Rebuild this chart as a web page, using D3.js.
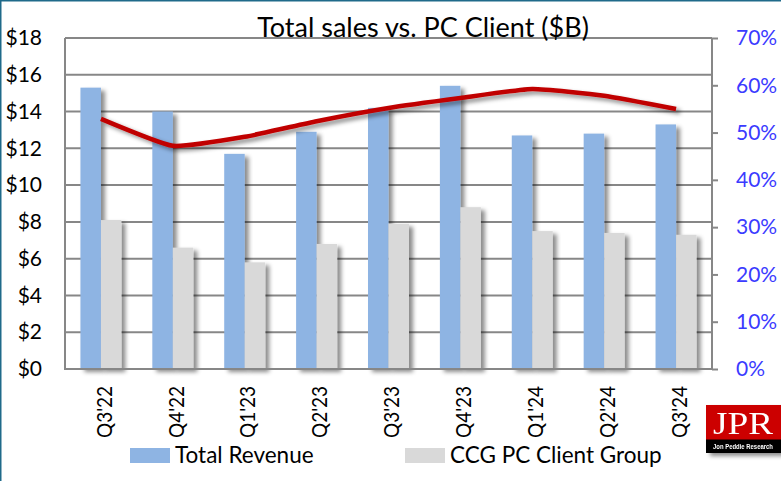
<!DOCTYPE html>
<html><head><meta charset="utf-8">
<script src="https://cdn.jsdelivr.net/npm/d3@7"></script>
<style>
html,body{margin:0;padding:0;background:#fff;}
svg{display:block;font-family:Lato,"Open Sans",sans-serif;}
</style></head>
<body>
<svg id="chart" width="781" height="481"></svg>
<script>
const categories = ["Q3'22","Q4'22","Q1'23","Q2'23","Q3'23","Q4'23","Q1'24","Q2'24","Q3'24"];
const totalRevenue = [15.3, 14.0, 11.7, 12.9, 14.2, 15.4, 12.7, 12.8, 13.3];
const pcClient = [8.1, 6.6, 5.8, 6.8, 7.9, 8.8, 7.5, 7.4, 7.3];
const pcShare = [52.9, 47.2, 49.1, 52.4, 55.2, 57.3, 59.2, 57.8, 55.0];
const leftTicks = [0,2,4,6,8,10,12,14,16,18];
const rightTicks = [0,10,20,30,40,50,60,70];
const seriesNames = ["Total Revenue","CCG PC Client Group"];

const svg = d3.select("#chart");
const W = 781, H = 481;
const m = {left:65, right:69, top:38, bottom:112};
const x0 = m.left, x1 = W - m.right, y0 = H - m.bottom, y1 = m.top;

const defs = svg.append("defs");
const f = defs.append("filter").attr("id","shadow").attr("x","-20%").attr("y","-20%").attr("width","160%").attr("height","160%");
f.append("feDropShadow").attr("dx",4).attr("dy",3).attr("stdDeviation",2.2).attr("flood-color","#000").attr("flood-opacity",0.45);

// border
svg.append("rect").attr("x",0.75).attr("y",0.75).attr("width",W+10).attr("height",H+10)
  .attr("fill","none").attr("stroke","#1F6A8A").attr("stroke-width",1.5);

const x = d3.scaleBand().domain(categories).range([x0,x1]).paddingInner(0).paddingOuter(0);
const y = d3.scaleLinear().domain([0,18]).range([y0,y1]);
const yR = d3.scaleLinear().domain([0,70]).range([y0,y1]);
const barW = 20.5;

// gridlines
svg.append("g").selectAll("line").data(leftTicks.filter(d=>d>0)).join("line")
  .attr("x1",x0).attr("x2",x1).attr("y1",d=>y(d)).attr("y2",d=>y(d))
  .attr("stroke","#878787").attr("stroke-width",2);

// bars
const g = svg.append("g");
g.selectAll(".b1").data(categories).join("rect")
  .attr("x",d=>x(d)+x.bandwidth()/2-barW).attr("width",barW)
  .attr("y",(d,i)=>y(totalRevenue[i])).attr("height",(d,i)=>y0-y(totalRevenue[i]))
  .attr("fill","#8EB4E3").attr("filter","url(#shadow)");
g.selectAll(".b2").data(categories).join("rect")
  .attr("x",d=>x(d)+x.bandwidth()/2).attr("width",barW)
  .attr("y",(d,i)=>y(pcClient[i])).attr("height",(d,i)=>y0-y(pcClient[i]))
  .attr("fill","#D9D9D9").attr("filter","url(#shadow)");

// axes lines
svg.append("line").attr("x1",x0).attr("x2",x0).attr("y1",y1).attr("y2",y0+1).attr("stroke","#878787").attr("stroke-width",2);
svg.append("line").attr("x1",x1).attr("x2",x1).attr("y1",y1).attr("y2",y0+1).attr("stroke","#878787").attr("stroke-width",2);
svg.append("line").attr("x1",x0-1).attr("x2",x1+1).attr("y1",y0).attr("y2",y0).attr("stroke","#878787").attr("stroke-width",2);

// line
const line = d3.line().x((d,i)=>x(categories[i])+x.bandwidth()/2).y(d=>yR(d)).curve(d3.curveCardinal.tension(0.55));
svg.append("path").datum(pcShare).attr("d",line).attr("fill","none")
  .attr("stroke","#C00000").attr("stroke-width",4.5).attr("stroke-linejoin","round").attr("filter","url(#shadow)");

// left axis
const la = svg.append("g").attr("transform",`translate(${x0},0)`)
  .call(d3.axisLeft(y).tickValues(leftTicks).tickSize(0).tickPadding(23).tickFormat(d=>"$"+d));
la.select(".domain").remove();
la.selectAll("text").attr("font-size",21).attr("fill","#000").attr("font-family","Lato");

// right axis
const ra = svg.append("g").attr("transform",`translate(${x1},0)`)
  .call(d3.axisRight(yR).tickValues(rightTicks).tickSize(6).tickPadding(18).tickFormat(d=>d+"%"));
ra.select(".domain").remove();
ra.selectAll("line").attr("stroke","#878787").attr("stroke-width",2);
ra.selectAll("text").attr("font-size",21).attr("fill","#3B3BFF").attr("font-family","Lato");

// x labels
svg.append("g").selectAll("text").data(categories).join("text")
  .attr("transform",d=>`translate(${x(d)+x.bandwidth()/2+3},${y0+17}) rotate(-90)`)
  .attr("text-anchor","end").attr("dy","0.35em")
  .attr("font-size",22).attr("textLength",52).attr("lengthAdjust","spacingAndGlyphs")
  .attr("fill","#000").text(d=>d);

// title
svg.append("text").attr("x",423).attr("y",37).attr("text-anchor","middle")
  .attr("font-size",27).attr("fill","#000").text("Total sales vs. PC Client ($B)");

// legend
const leg = svg.append("g");
const legItems = [{name:seriesNames[0],color:"#8EB4E3",x:130},{name:seriesNames[1],color:"#D9D9D9",x:405}];
legItems.forEach(it=>{
  leg.append("rect").attr("x",it.x).attr("y",448).attr("width",40).attr("height",15).attr("fill",it.color);
  leg.append("text").attr("x",it.x+45).attr("y",463).attr("font-size",22.5).attr("fill","#000").text(it.name);
});

// logo
const logo = svg.append("g").attr("filter","url(#shadow)");
logo.append("rect").attr("x",706).attr("y",405).attr("width",75).attr("height",35).attr("fill","#CC0000");
logo.append("rect").attr("x",706).attr("y",439.5).attr("width",75).attr("height",13.5).attr("fill","#000");
logo.append("text").attr("x",743).attr("y",434).attr("text-anchor","middle").attr("font-family","Liberation Serif,serif")
  .attr("font-size",32).attr("fill","#fff").attr("textLength",60).attr("lengthAdjust","spacingAndGlyphs").text("JPR");
logo.append("text").attr("x",743).attr("y",449).attr("text-anchor","middle").attr("font-family","Liberation Sans Narrow,Liberation Sans,sans-serif")
  .attr("font-size",7.5).attr("font-weight","bold").attr("fill","#fff").attr("textLength",60).attr("lengthAdjust","spacingAndGlyphs").text("Jon Peddie Research");
</script>
</body></html>
